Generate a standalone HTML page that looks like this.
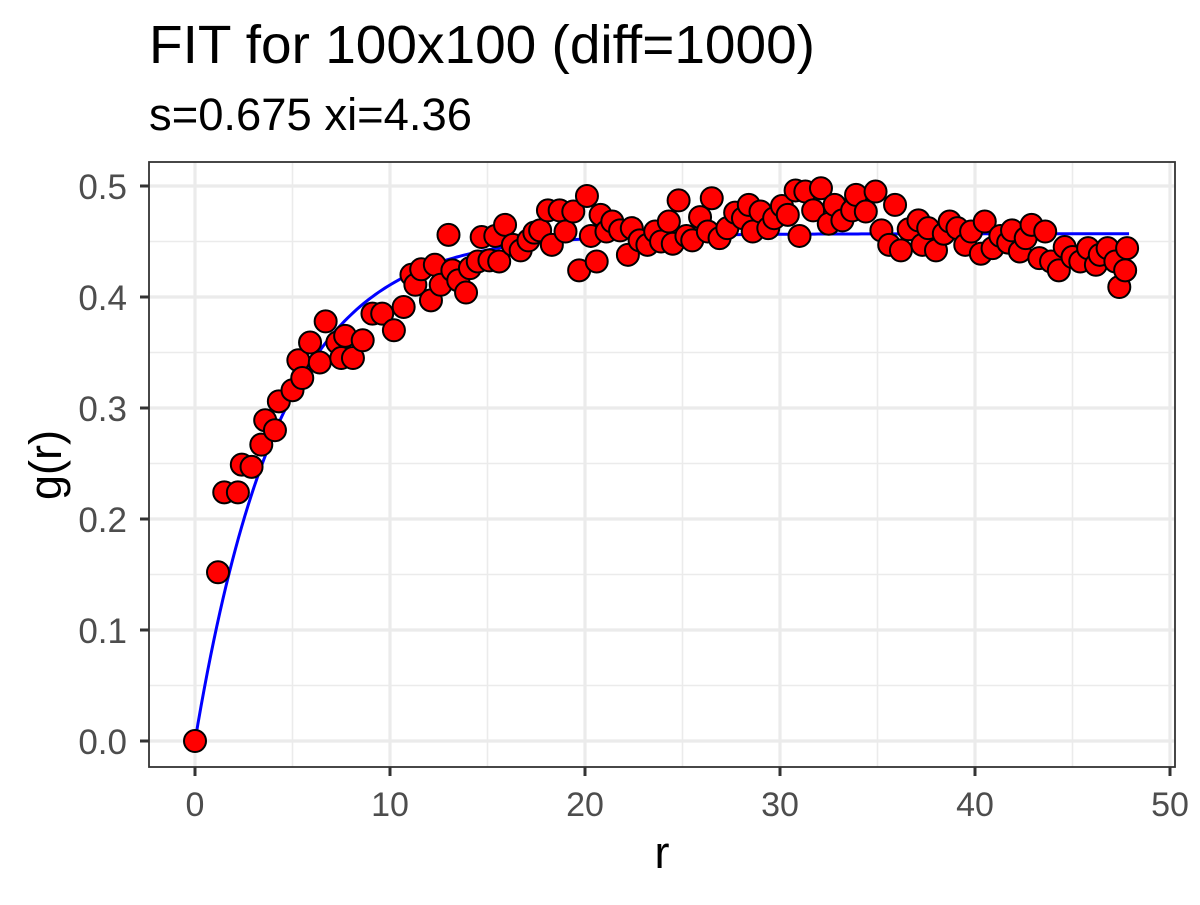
<!DOCTYPE html>
<html><head><meta charset="utf-8"><style>
body{margin:0;background:#fff;font-family:"Liberation Sans",sans-serif}
</style></head><body>
<svg id="chart" width="1200" height="900" xmlns="http://www.w3.org/2000/svg" font-family="Liberation Sans, sans-serif">
<rect width="1200" height="900" fill="#fff"/>
<text x="149" y="63" font-size="54" fill="#000" textLength="666" lengthAdjust="spacingAndGlyphs">FIT for 100x100 (diff=1000)</text>
<text x="149" y="130" font-size="45" fill="#000" textLength="323" lengthAdjust="spacingAndGlyphs">s=0.675 xi=4.36</text>
<g id="grid"></g>
<g id="fit"></g>
<g id="pts"></g>
<rect x="149" y="162" width="1026" height="605" fill="none" stroke="#333" stroke-width="1.8"/>
<g id="axes"></g>
<text x="662" y="868" font-size="45" text-anchor="middle">r</text>
<text transform="translate(61,465) rotate(-90)" font-size="45" text-anchor="middle">g(r)</text>
</svg>
<script>
const xTicks=[0,10,20,30,40,50];
const yTicks=[0,0.1,0.2,0.3,0.4,0.5];
const yTickLabels=["0.0","0.1","0.2","0.3","0.4","0.5"];
const fitAmp=0.457;
const fitXi=4.36;
const fitMaxR=47.9;
const rVals=[0,1.18,1.5,2.2,2.4,2.9,3.4,3.6,4.1,4.3,5.0,5.3,5.5,5.9,6.4,6.7,7.3,7.5,7.7,8.1,8.6,9.1,9.6,10.2,10.7,11.1,11.3,11.6,12.1,12.3,12.6,13,13.2,13.5,13.9,14.1,14.5,14.7,15.1,15.4,15.6,15.9,16.3,16.7,17.1,17.4,17.7,18.1,18.3,18.7,19,19.4,19.7,20.1,20.3,20.6,20.8,21.1,21.4,21.8,22.2,22.4,22.8,23.2,23.6,23.9,24.3,24.5,24.8,25.2,25.5,25.9,26.3,26.5,26.9,27.3,27.7,28.1,28.4,28.6,29,29.4,29.7,30.1,30.4,30.8,31,31.3,31.7,32.1,32.5,32.8,33.2,33.7,33.9,34.4,34.9,35.2,35.6,35.9,36.2,36.6,37.1,37.3,37.6,38,38.4,38.7,39.1,39.5,39.8,40.3,40.5,40.9,41.3,41.7,41.9,42.3,42.6,42.9,43.3,43.6,43.9,44.3,44.6,45,45.4,45.8,46.2,46.4,46.8,47.2,47.4,47.7,47.8];
const gVals=[0,0.152,0.224,0.224,0.249,0.247,0.267,0.289,0.280,0.306,0.316,0.343,0.327,0.359,0.341,0.378,0.359,0.345,0.365,0.345,0.361,0.385,0.385,0.37,0.391,0.42,0.411,0.425,0.397,0.429,0.411,0.456,0.424,0.415,0.404,0.426,0.432,0.454,0.433,0.455,0.432,0.465,0.447,0.442,0.451,0.458,0.46,0.478,0.447,0.478,0.459,0.477,0.424,0.491,0.455,0.432,0.474,0.459,0.468,0.46,0.438,0.462,0.451,0.447,0.459,0.45,0.468,0.448,0.487,0.455,0.451,0.472,0.459,0.489,0.453,0.462,0.476,0.471,0.483,0.459,0.477,0.462,0.471,0.482,0.474,0.496,0.455,0.495,0.478,0.498,0.466,0.483,0.469,0.478,0.492,0.477,0.495,0.46,0.447,0.483,0.442,0.461,0.469,0.447,0.462,0.442,0.457,0.468,0.462,0.447,0.459,0.439,0.468,0.444,0.455,0.449,0.46,0.441,0.453,0.465,0.435,0.459,0.432,0.424,0.445,0.436,0.432,0.444,0.429,0.438,0.444,0.432,0.409,0.424,0.444];
const NS="http://www.w3.org/2000/svg";
const X0=149,X1=1175,Y0=162,Y1=767;
const xs=r=>195+r*19.5;
const ys=g=>741-g*1110;
function mk(tag,attrs,parent){const e=document.createElementNS(NS,tag);for(const k in attrs)e.setAttribute(k,attrs[k]);parent.appendChild(e);return e;}
const grid=document.getElementById('grid');
mk('rect',{x:X0,y:Y0,width:X1-X0,height:Y1-Y0,fill:'#fff'},grid);
for(let i=0;i<xTicks.length;i++){const m=xTicks[i]+5;if(xs(m)<X1){const l=mk('line',{x1:xs(m),x2:xs(m),y1:Y0,y2:Y1,stroke:'#ebebeb','stroke-width':1.6},grid);

}}
for(let i=0;i<yTicks.length;i++){const m=yTicks[i]+0.05;if(ys(m)>Y0){const l=mk('line',{x1:X0,x2:X1,y1:ys(m),y2:ys(m),stroke:'#ebebeb','stroke-width':1.6},grid);

}}
const axes=document.getElementById('axes');
xTicks.forEach(t=>{const x=xs(t);
const l=mk('line',{x1:x,x2:x,y1:Y0,y2:Y1,stroke:'#ebebeb','stroke-width':3.2},grid);


const tk=mk('line',{x1:x,x2:x,y1:Y1,y2:Y1+9,stroke:'#333','stroke-width':3},axes);


const tx=mk('text',{x:x,y:816,'font-size':34,fill:'#4d4d4d','text-anchor':'middle'},axes);tx.textContent=t;

});
yTicks.forEach((t,i)=>{const y=ys(t);
const l=mk('line',{x1:X0,x2:X1,y1:y,y2:y,stroke:'#ebebeb','stroke-width':3.2},grid);


const tk=mk('line',{x1:X0-9,x2:X0,y1:y,y2:y,stroke:'#333','stroke-width':3},axes);


const tx=mk('text',{x:X0-22,y:y+13,'font-size':35,fill:'#4d4d4d','text-anchor':'end'},axes);tx.textContent=yTickLabels[i];

});
const pts=document.getElementById('pts');
rVals.forEach((r,i)=>{const c=mk('circle',{cx:xs(r),cy:ys(gVals[i]),r:11,fill:'#ff0000',stroke:'#000','stroke-width':2},pts);

});
let d='';for(let k=0;k<=300;k++){const r=fitMaxR*k/300;const g=fitAmp*(1-Math.exp(-r/fitXi));d+=(k?'L':'M')+xs(r).toFixed(2)+','+ys(g).toFixed(2);}
const fl=mk('path',{d:d,fill:'none',stroke:'#0000ff','stroke-width':3},document.getElementById('fit'));


</script>
</body></html>
